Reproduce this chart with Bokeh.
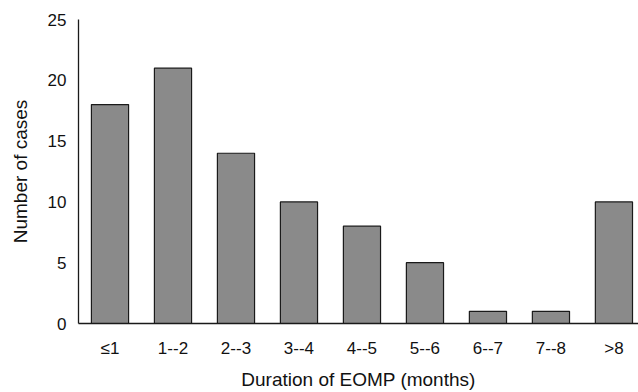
from bokeh.plotting import figure
from bokeh.models import Range1d, FixedTicker, ColumnDataSource
from bokeh.embed import file_html
from bokeh.resources import INLINE

categories = ["≤1", "1--2", "2--3", "3--4", "4--5", "5--6", "6--7", "7--8", ">8"]
cases = [18, 21, 14, 10, 8, 5, 1, 1, 10]
y_ticks = [0, 5, 10, 15, 20, 25]

xpos = [i + 0.5 for i in range(len(categories))]
src = ColumnDataSource(dict(x=xpos, top=cases))

p = figure(width=638, height=392, output_backend="svg", toolbar_location=None,
           x_range=Range1d(0, 8.89), y_range=Range1d(0, 25),
           min_border_left=78, min_border_right=0, min_border_top=19, min_border_bottom=67)
p.outline_line_color = None
p.xgrid.visible = False
p.ygrid.visible = False

p.vbar(x="x", top="top", width=0.59, bottom=0, source=src,
       fill_color="#8a8a8a", line_color="#1a1a1a", line_width=1.2)

font = "Liberation Sans"
p.xaxis.ticker = FixedTicker(ticks=xpos)
p.xaxis.major_label_overrides = {x: c for x, c in zip(xpos, categories)}
p.xaxis.minor_tick_line_color = None
p.xaxis.major_tick_out = 0
p.xaxis.major_tick_in = 0
p.xaxis.major_label_standoff = 15
p.xaxis.axis_label = "Duration of EOMP (months)"
p.xaxis.axis_label_standoff = 8

p.yaxis.ticker = FixedTicker(ticks=y_ticks)
p.yaxis.minor_tick_line_color = None
p.yaxis.major_tick_out = 4
p.yaxis.major_tick_in = 0
p.yaxis.major_label_standoff = 8
p.yaxis.axis_label = "Number of cases"
p.yaxis.axis_label_standoff = 14

for ax in (p.xaxis, p.yaxis):
    ax.axis_line_color = "#1a1a1a"
    ax.axis_line_width = 1.3
    ax.major_tick_line_color = "#1a1a1a" if ax is p.yaxis else None
    ax.major_label_text_font = font
    ax.major_label_text_font_size = "17px"
    ax.major_label_text_color = "#111111"
    ax.axis_label_text_font = font
    ax.axis_label_text_font_size = "19px"
    ax.axis_label_text_font_style = "normal"
    ax.axis_label_text_color = "#111111"

open("out.html", "w").write(file_html(p, INLINE))
